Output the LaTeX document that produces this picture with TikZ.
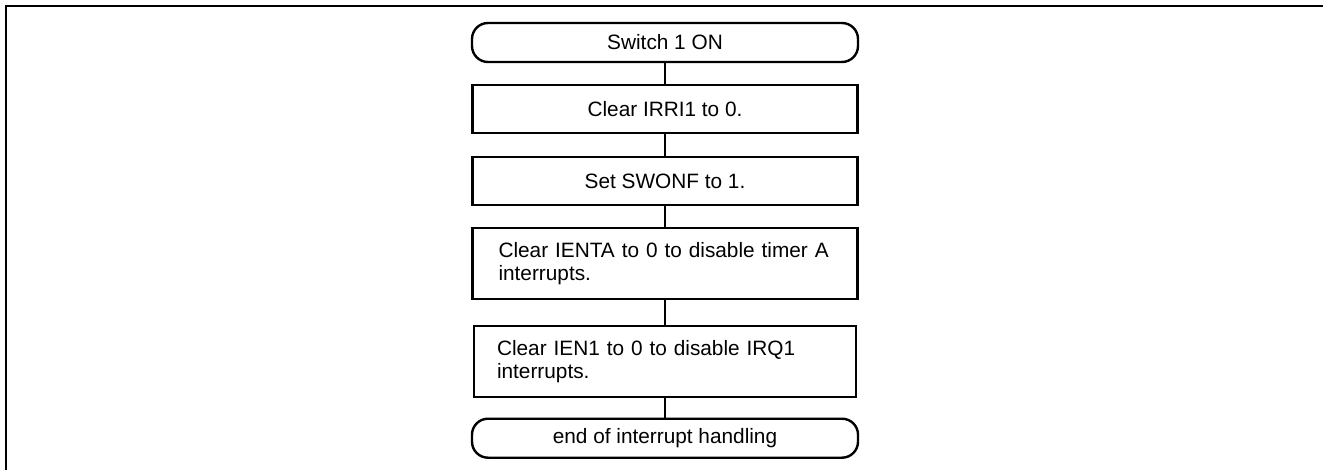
\documentclass[tikz,border=0pt]{standalone}
\usepackage{fontspec}
\setmainfont{Liberation Sans}
\begin{document}
\begin{tikzpicture}[x=1pt,y=-1pt,
  every node/.style={font=\fontsize{20.8}{22.5}\selectfont, text=black},
  term/.style={draw, line width=2.4pt, rounded corners=16pt, minimum width=386pt, minimum height=39pt, inner sep=0pt},
  proc/.style={draw, line width=2.4pt, minimum width=385pt, minimum height=48pt, inner sep=0pt},
  proc2/.style={draw, line width=2.4pt, minimum height=71pt, inner ysep=0pt, align=left},
  link/.style={line width=1.2pt}]
\useasboundingbox (0,0) rectangle (1323,470);
\draw[line width=2pt] (5,6.5) -- (1323,6.5);
\draw[line width=2pt] (6,5.5) -- (6,470);
\node[term] (t1) at (665,42.5) {Switch 1 ON};
\node[proc] (b1) at (665,109) {Clear IRRI1 to 0.};
\node[proc] (b2) at (665,181) {Set SWONF to 1.};
\node[proc2, text width=333pt, inner xsep=26pt] (b3) at (665,263.8) {Clear IENTA to 0 to disable timer A\\interrupts.};
\node[proc2, text width=336pt, inner xsep=23pt] (b4) at (665,361.7) {Clear IEN1 to 0 to disable IRQ1\\interrupts.};
\node[term] (t2) at (665,438.2) {end of interrupt handling};
\draw[link] (t1) -- (b1);
\draw[link] (b1) -- (b2);
\draw[link] (b2) -- (b3);
\draw[link] (b3) -- (b4);
\draw[link] (b4) -- (t2);
\end{tikzpicture}
\end{document}
